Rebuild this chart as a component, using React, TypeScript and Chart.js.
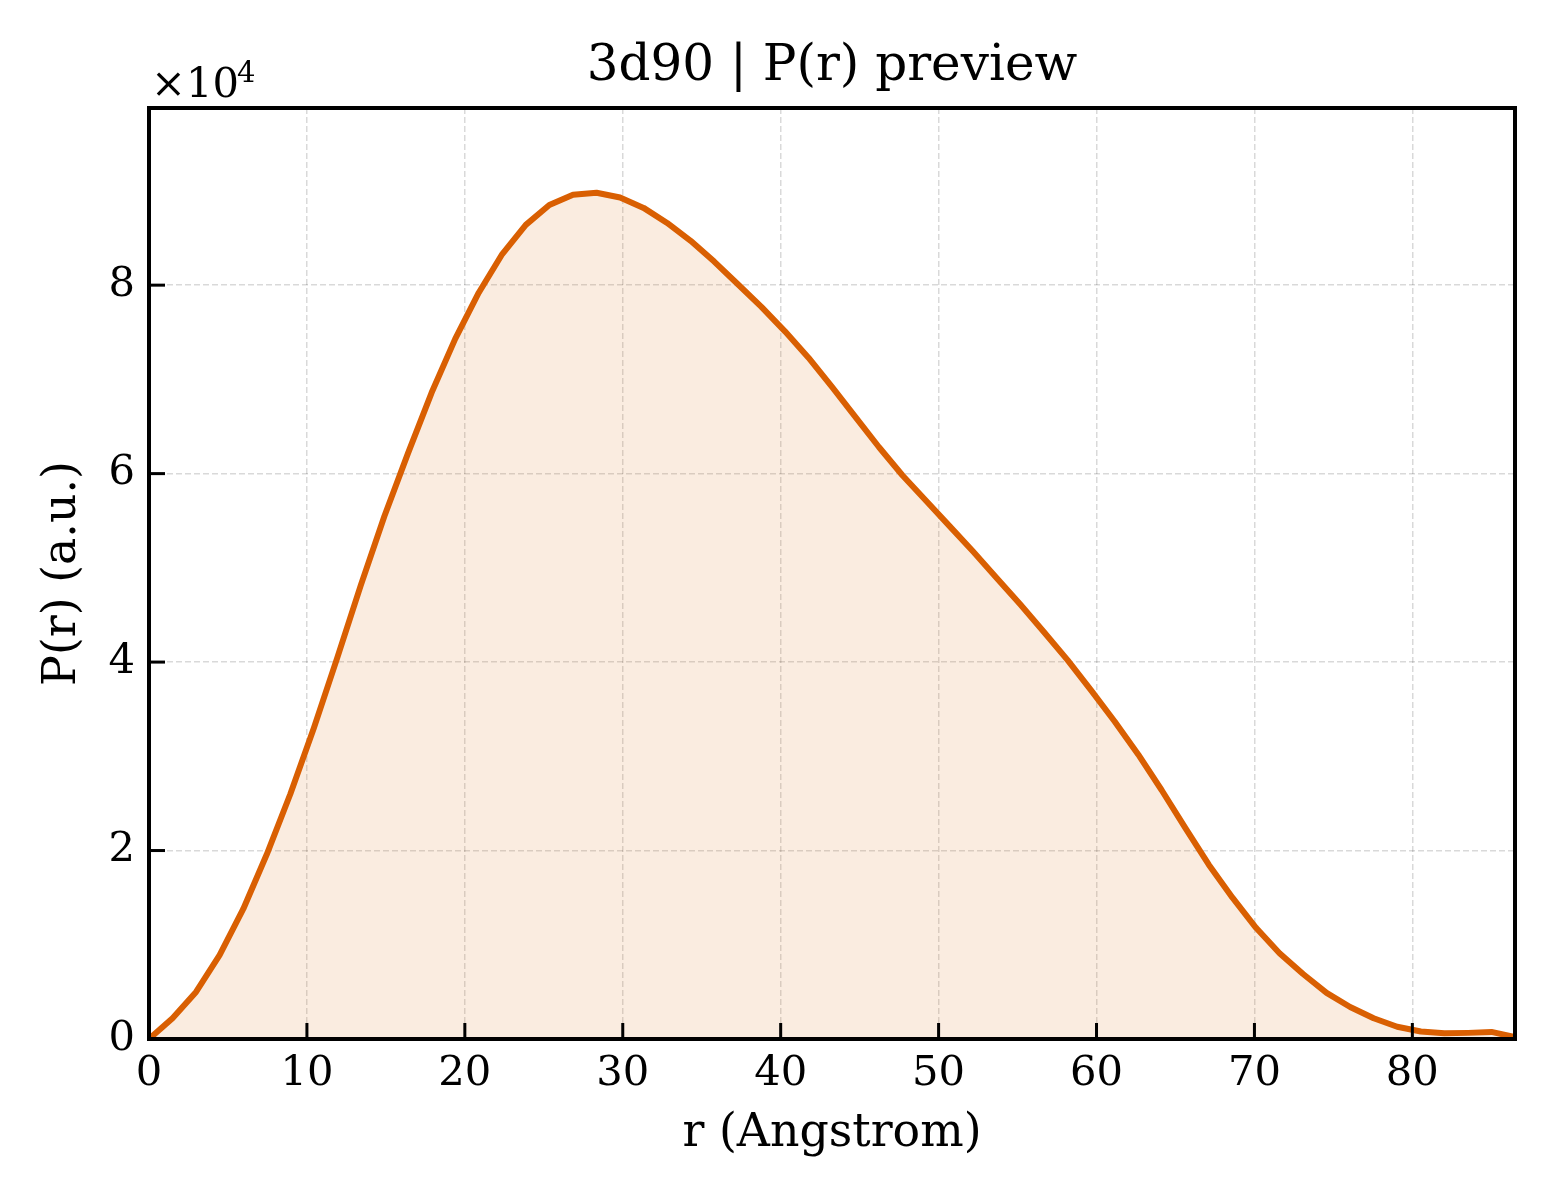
import React, { useEffect, useRef } from "react";
import { Chart, registerables } from "chart.js";

Chart.register(...registerables);

// ---- data ----
const rValues = [
  0, 1.49, 2.98, 4.47, 5.97, 7.46, 8.95, 10.44, 11.93, 13.42, 14.91, 16.41, 17.9, 19.39, 20.88,
  22.37, 23.86, 25.35, 26.85, 28.34, 29.83, 31.32, 32.81, 34.3, 35.79, 37.29, 38.78, 40.27, 41.76,
  43.25, 44.74, 46.23, 47.72, 49.22, 50.71, 52.2, 53.69, 55.18, 56.67, 58.17, 59.66, 61.15, 62.64,
  64.13, 65.62, 67.11, 68.61, 70.1, 71.59, 73.08, 74.57, 76.06, 77.55, 79.04, 80.54, 82.03, 83.52,
  85.01, 86.5,
];
const pValues = [
  0, 2200, 5000, 8900, 13800, 19600, 26000, 33000, 40500, 48200, 55500, 62200, 68600, 74300, 79200,
  83300, 86400, 88500, 89600, 89800, 89300, 88200, 86600, 84700, 82500, 80100, 77700, 75100, 72300,
  69200, 66000, 62800, 59800, 57100, 54400, 51700, 48900, 46100, 43200, 40200, 37000, 33700, 30200,
  26400, 22400, 18500, 15000, 11800, 9100, 6900, 4900, 3400, 2200, 1300, 800, 600, 650, 750, 200,
];
const xTickValues = [0, 10, 20, 30, 40, 50, 60, 70, 80];
const yTickValues = [0, 20000, 40000, 60000, 80000];
const X_MIN = 0;
const X_MAX = 86.5;
const Y_MIN = 0;
const Y_MAX = 98800;
const Y_SCALE_EXP = 4;

const TITLE = "3d90 | P(r) preview";
const X_LABEL = "r (Angstrom)";
const Y_LABEL = "P(r) (a.u.)";

const FONT = '"DejaVu Serif", serif';
const LINE_COLOR = "#d95f02";
const FILL_COLOR = "rgba(217,95,2,0.12)";
const GRID_COLOR = "rgba(0,0,0,0.15)";
const TICK_LEN = 16;
const TICK_W = 3;
const FRAME_W = 4;

const frameTicksPlugin = {
  id: "frameTicks",
  afterDraw(chart: any) {
    const { ctx, chartArea: a, scales } = chart;
    const xs = scales.x;
    const ys = scales.y;
    ctx.save();
    ctx.setLineDash([]);
    ctx.fillStyle = "#000";
    // inward tick marks on bottom and left axes
    xTickValues.forEach((v) => {
      const px = xs.getPixelForValue(v);
      ctx.fillRect(px - TICK_W / 2, a.bottom - TICK_LEN, TICK_W, TICK_LEN);
    });
    yTickValues.forEach((v) => {
      const py = ys.getPixelForValue(v);
      ctx.fillRect(a.left, py - TICK_W / 2, TICK_LEN, TICK_W);
    });
    // frame
    ctx.strokeStyle = "#000";
    ctx.lineWidth = FRAME_W;
    ctx.strokeRect(a.left, a.top, a.right - a.left, a.bottom - a.top);

    // offset text  ×10^4
    ctx.textAlign = "left";
    ctx.textBaseline = "alphabetic";
    ctx.font = `41.67px ${FONT}`;
    const base = "×10";
    ctx.fillText(base, a.left + 2, a.top - 11);
    const w = ctx.measureText(base).width;
    ctx.font = `29px ${FONT}`;
    ctx.fillText(String(Y_SCALE_EXP), a.left + 2 + w - 2, a.top - 26);
    ctx.restore();
  },
};

export default function App() {
  const canvasRef = useRef<HTMLCanvasElement | null>(null);

  useEffect(() => {
    document.body.style.margin = "0";
    const canvas = canvasRef.current;
    if (!canvas) return;
    const points = rValues.map((r, i) => ({ x: r, y: pValues[i] }));
    const chart = new Chart(canvas, {
      type: "line",
      data: {
        datasets: [
          {
            data: points,
            borderColor: LINE_COLOR,
            backgroundColor: FILL_COLOR,
            borderWidth: 6,
            fill: "origin",
            pointRadius: 0,
            tension: 0,
            borderJoinStyle: "round",
          },
        ],
      },
      options: {
        animation: false,
        responsive: false,
        devicePixelRatio: 1,
        layout: { padding: { left: 0, right: 45, top: 0, bottom: 0 } },
        plugins: {
          legend: { display: false },
          tooltip: { enabled: false },
          title: {
            display: true,
            text: TITLE,
            fullSize: false,
            color: "#000",
            font: { family: FONT, size: 50, weight: "normal", lineHeight: 1.2 },
            padding: { top: 37, bottom: 11 },
          },
        },
        scales: {
          x: {
            type: "linear",
            min: X_MIN,
            max: X_MAX,
            afterFit(s: any) {
              s.height = 161;
            },
            afterBuildTicks(s: any) {
              s.ticks = xTickValues.map((v) => ({ value: v }));
            },
            ticks: {
              padding: 10,
              color: "#000",
              maxRotation: 0,
              autoSkip: false,
              font: { family: FONT, size: 41.67, weight: "normal" },
            },
            grid: { color: GRID_COLOR, lineWidth: 1.5, drawTicks: false },
            border: { display: false, dash: [6, 3] },
            title: {
              display: true,
              text: X_LABEL,
              color: "#000",
              font: { family: FONT, size: 45.83, weight: "normal", lineHeight: 1.2 },
              padding: { top: 0, bottom: 38 },
            },
          },
          y: {
            type: "linear",
            min: Y_MIN,
            max: Y_MAX,
            afterFit(s: any) {
              s.width = 149;
            },
            afterBuildTicks(s: any) {
              s.ticks = yTickValues.map((v) => ({ value: v }));
            },
            ticks: {
              padding: 14,
              color: "#000",
              autoSkip: false,
              font: { family: FONT, size: 41.67, weight: "normal" },
              callback: (v: any) => String(Number(v) / Math.pow(10, Y_SCALE_EXP)),
            },
            grid: { color: GRID_COLOR, lineWidth: 1.5, drawTicks: false },
            border: { display: false, dash: [6, 3] },
            title: {
              display: true,
              text: Y_LABEL,
              color: "#000",
              font: { family: FONT, size: 45.83, weight: "normal", lineHeight: 1.2 },
              padding: { top: 36, bottom: 0 },
            },
          },
        },
      },
      plugins: [frameTicksPlugin],
    } as any);
    return () => chart.destroy();
  }, []);

  return (
    <div>
      <canvas ref={canvasRef} width={1560} height={1200} style={{ display: "block", width: 1560, height: 1200 }} />
    </div>
  );
}
